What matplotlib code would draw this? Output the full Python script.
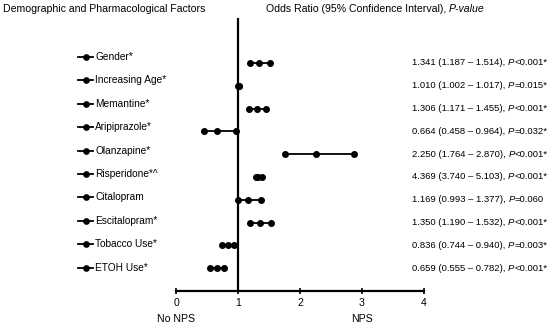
import matplotlib.pyplot as plt
from matplotlib.lines import Line2D
from matplotlib.transforms import blended_transform_factory

plt.rcParams['font.family'] = ['Liberation Sans', 'DejaVu Sans']

factors = ["Gender*", "Increasing Age*", "Memantine*", "Aripiprazole*", "Olanzapine*",
           "Risperidone*^", "Citalopram", "Escitalopram*", "Tobacco Use*", "ETOH Use*"]
# values as drawn in the plot
odds = [1.341, 1.010, 1.306, 0.664, 2.250, 1.33, 1.169, 1.350, 0.836, 0.659]
ci_low = [1.187, 1.002, 1.171, 0.458, 1.764, 1.29, 0.993, 1.190, 0.744, 0.555]
ci_high = [1.514, 1.017, 1.455, 0.964, 2.870, 1.38, 1.377, 1.532, 0.940, 0.782]
# texts on the right
or_text = ["1.341 (1.187 \u2013 1.514), ", "1.010 (1.002 \u2013 1.017), ",
           "1.306 (1.171 \u2013 1.455), ", "0.664 (0.458 \u2013 0.964), ",
           "2.250 (1.764 \u2013 2.870), ", "4.369 (3.740 \u2013 5.103), ",
           "1.169 (0.993 \u2013 1.377), ", "1.350 (1.190 \u2013 1.532), ",
           "0.836 (0.744 \u2013 0.940), ", "0.659 (0.555 \u2013 0.782), "]
p_text = ["<0.001*", "=0.015*", "<0.001*", "=0.032*", "<0.001*",
          "<0.001*", "=0.060", "<0.001*", "=0.003*", "<0.001*"]

W, H = 550, 328
fig = plt.figure(figsize=(W / 100, H / 100), dpi=100)
ax = fig.add_axes([176 / W, 37.3 / H, 248 / W, 272.7 / H])

fs = 7.3
for i in range(len(factors)):
    ax.plot([ci_low[i], odds[i], ci_high[i]], [i, i, i], color="black", lw=1.3,
            marker="o", markersize=4)

ax.axvline(1, color="black", lw=1.6)
ax.set_xlim(0, 4)
ax.set_ylim(9.99, -1.97)
ax.set_xticks([0, 1, 2, 3, 4])
ax.set_yticks([])
for s in ["left", "top", "right"]:
    ax.spines[s].set_visible(False)
ax.spines["bottom"].set_linewidth(1.6)
ax.tick_params(axis="x", direction="inout", length=4, width=1.2, labelsize=fs + 0.3, pad=3)
bt = blended_transform_factory(ax.transData, ax.transAxes)
ax.text(0, -0.085, "No NPS", transform=bt, ha="center", va="top", fontsize=fs + 0.3)
ax.text(3, -0.085, "NPS", transform=bt, ha="center", va="top", fontsize=fs + 0.3)

# titles
fig.text(3 / W, 1 - 9 / H, "Demographic and Pharmacological Factors", va="center", fontsize=fs + 0.3)
t = fig.text(266 / W, 1 - 9 / H, "Odds Ratio (95% Confidence Interval), ", va="center", fontsize=fs + 0.3)
ax.annotate("P-value", xy=(1, 0), xycoords=t, va="bottom", ha="left",
            fontsize=fs + 0.3, style="italic", annotation_clip=False)

# left labels with legend-like markers
for i, name in enumerate(factors):
    y = 1 - (57 + 23.4 * i) / H
    fig.add_artist(Line2D([78 / W, 85.5 / W, 93 / W], [y, y, y], color="black", lw=1.3,
                          marker="o", markersize=3.8, markevery=[1]))
    fig.text(95 / W, y, name, va="center", fontsize=fs)

# right texts
tr = blended_transform_factory(fig.transFigure, ax.transData)
for i in range(len(factors)):
    a = ax.text(412 / W, i, or_text[i], transform=tr, va="center", fontsize=fs - 0.5)
    b = ax.annotate("P", xy=(1, 0), xycoords=a, va="bottom", ha="left",
                    fontsize=fs - 0.5, style="italic", annotation_clip=False)
    ax.annotate(p_text[i], xy=(1, 0), xycoords=b, va="bottom", ha="left",
                fontsize=fs - 0.5, annotation_clip=False)

fig.savefig("out.png", dpi=100)
